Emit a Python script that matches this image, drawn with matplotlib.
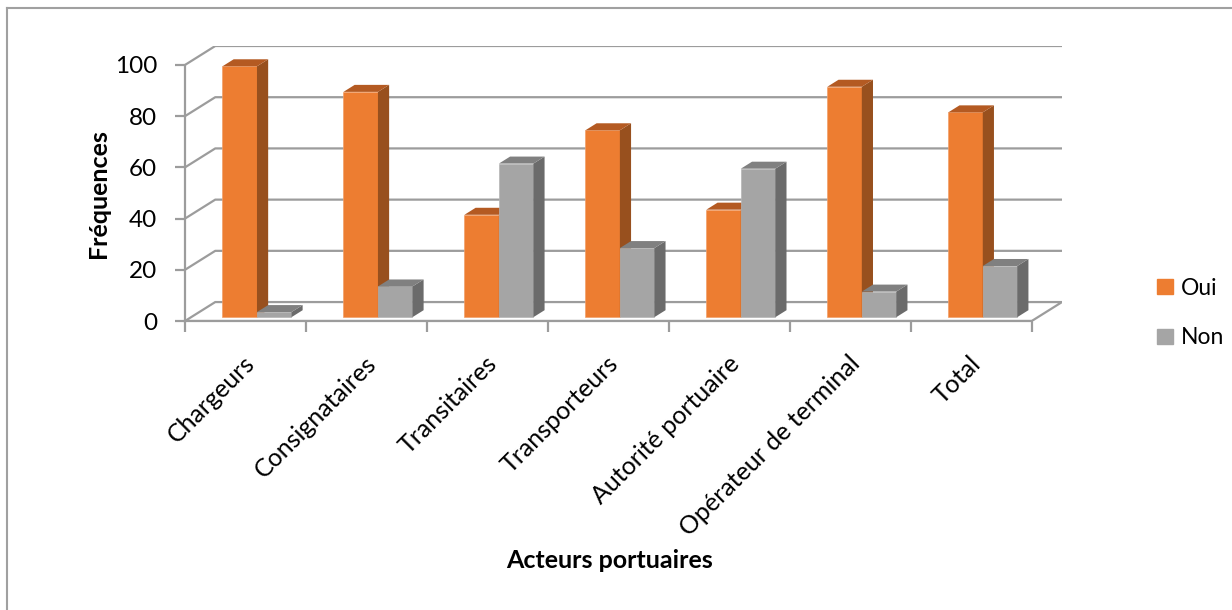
import numpy as np
import matplotlib
matplotlib.use("Agg")
import matplotlib.pyplot as plt
from matplotlib.patches import Patch
from matplotlib.lines import Line2D
from matplotlib.transforms import ScaledTranslation

plt.rcParams['font.family'] = ['Lato', 'DejaVu Sans']

# Data
categories = ['Chargeurs', 'Consignataires', 'Transitaires', 'Transporteurs',
              'Autorité portuaire', 'Opérateur de terminal', 'Total']
oui = [98, 88, 40, 73, 42, 90, 80]
non = [2, 12, 60, 27, 58, 10, 20]
yticks = [0, 20, 40, 60, 80, 100]

# Colours (front, side, top)
orange = ('#ED7D31', '#98501E', '#B45A22')
grey = ('#A5A5A5', '#6B6B6B', '#808080')
line_col = '#9C9C9C'

# Fake 3D: depth of the whole box and of one bar, in data units
DX, DY = 0.25, 7.4
F0 = 0.2          # depth where the bar front faces sit
FD = 0.37         # bar depth as a fraction of the box depth
W = 0.285         # bar width

W_PX, H_PX = 1232, 610
fig = plt.figure(figsize=(W_PX / 100, H_PX / 100), dpi=100)
n = len(categories)
ax = fig.add_axes([185 / W_PX, (H_PX - 321) / H_PX, 877 / W_PX, 275 / H_PX])
ax.set_xlim(0, n + DX)
ax.set_ylim(0, 100 + DY)

# back wall grid and floor
for v in yticks[1:]:
    ax.plot([0, DX, n + DX], [v, v + DY, v + DY], color=line_col, lw=1.6, zorder=1)
ax.fill([0, DX, n + DX, n], [0, DY, DY, 0], facecolor='white',
        edgecolor=line_col, lw=1.6, zorder=1)


def bar3d(left, value, cols, z):
    bx, by = left + F0 * DX, F0 * DY
    dx, dy = FD * DX, FD * DY
    ax.bar(bx, value, width=W, bottom=by, align='edge', color=cols[0],
           edgecolor='#F2A06A' if cols is orange else '#B5B5B5', lw=0.5, zorder=z)
    # side face
    ax.fill([bx + W, bx + W + dx, bx + W + dx, bx + W],
            [by, by + dy, by + value + dy, by + value], color=cols[1], lw=0, zorder=z)
    # top face
    ax.fill([bx, bx + dx, bx + W + dx, bx + W],
            [by + value, by + value + dy, by + value + dy, by + value],
            color=cols[2], lw=0, zorder=z)


x = np.arange(n)
centers = x + 0.545
for i in range(n):
    bar3d(centers[i] - W, oui[i], orange, 3 + 2 * i)
    bar3d(centers[i], non[i], grey, 4 + 2 * i)

# axes
for s in ['top', 'right']:
    ax.spines[s].set_visible(False)
ax.spines['left'].set_bounds(0, 100)
ax.spines['bottom'].set_bounds(0, n)
for s in ['left', 'bottom']:
    ax.spines[s].set_color(line_col)
    ax.spines[s].set_linewidth(1.6)
    ax.spines[s].set_zorder(2)

ax.set_yticks(yticks)
ax.set_yticklabels([str(v) for v in yticks], fontsize=17.5)
ax.tick_params(axis='y', length=7, width=1.6, color=line_col, pad=13)

ax.set_xticks(np.arange(n + 1))
ax.set_xticklabels([])
ax.set_xticks(x + 0.5, minor=True)
ax.set_xticklabels(categories, minor=True, fontsize=18, rotation=45,
                   ha='right', va='center', rotation_mode='anchor')
ax.tick_params(axis='x', which='major', length=8, width=1.6, color=line_col)
ax.tick_params(axis='x', which='minor', length=0, pad=28)
for lbl in ax.get_xticklabels(minor=True):
    lbl.set_transform(lbl.get_transform() + ScaledTranslation(0.06, 0, fig.dpi_scale_trans))

# titles
fig.text(98 / W_PX, 1 - 194 / H_PX, 'Fréquences', rotation=90, fontsize=18,
         fontweight='bold', ha='center', va='center')
fig.text(610 / W_PX, 1 - 561 / H_PX, 'Acteurs portuaires', fontsize=18,
         fontweight='bold', ha='center', va='center')

# legend
handles = [Patch(color=orange[0]), Patch(color=grey[0])]
fig.legend(handles, ['Oui', 'Non'], loc='center left',
           bbox_to_anchor=(1146 / W_PX, 1 - 313 / H_PX), frameon=False,
           fontsize=16.5, handlelength=0.66, handleheight=0.66, handletextpad=0.35,
           labelspacing=1.25, borderpad=0)

# chart border (top and left only are inside the picture)
fig.add_artist(Line2D([7 / W_PX, 1], [1 - 8 / H_PX, 1 - 8 / H_PX], color='#A0A0A0', lw=1.5))
fig.add_artist(Line2D([7 / W_PX, 7 / W_PX], [0, 1 - 8 / H_PX], color='#A0A0A0', lw=1.5))

fig.savefig('out.png', dpi=100)
